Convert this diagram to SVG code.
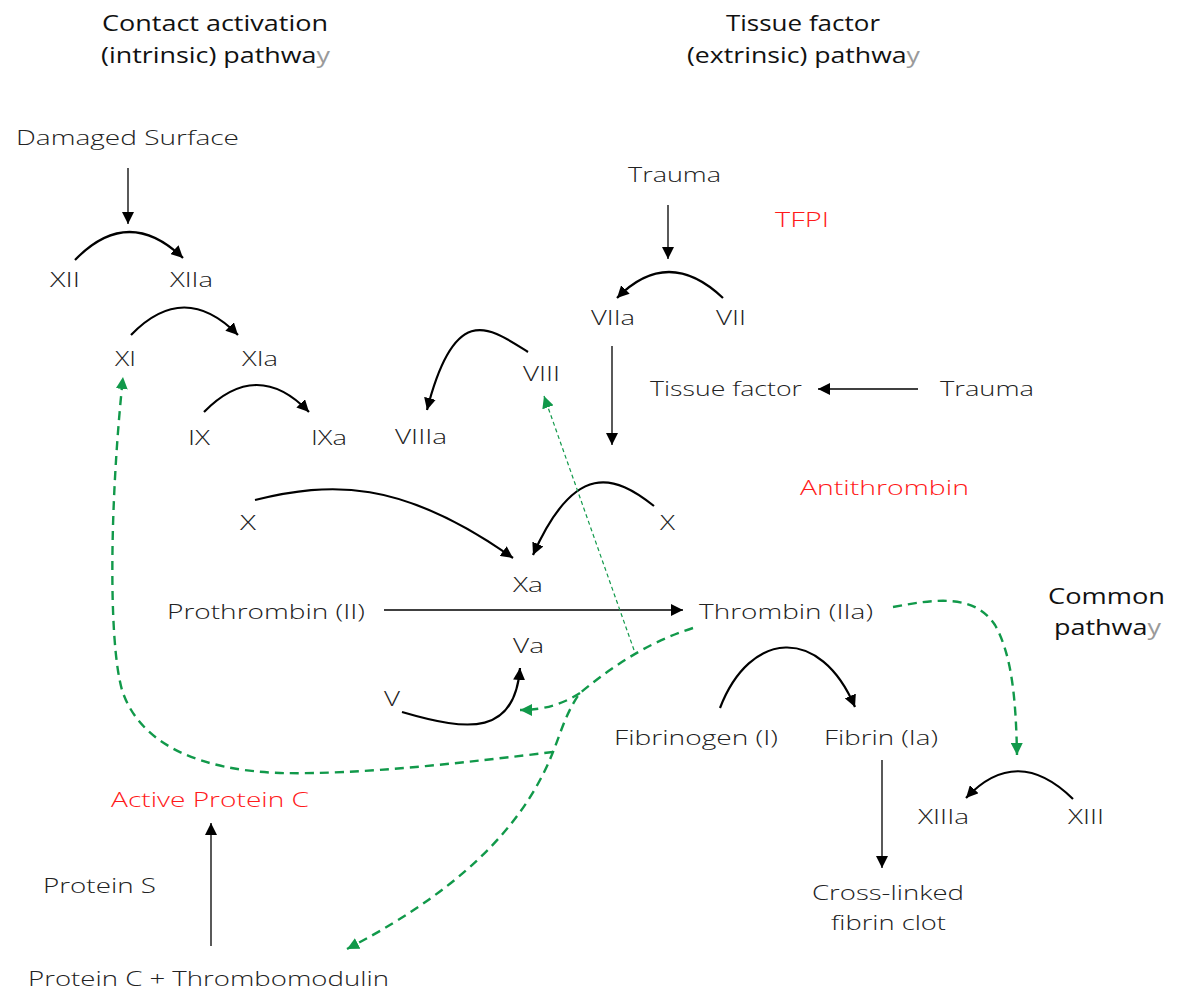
<svg xmlns="http://www.w3.org/2000/svg" width="1191" height="1007" viewBox="0 0 1191 1007">
<style>
text{font-family:"Open Sans","Liberation Sans",sans-serif;font-size:21px;font-weight:300;fill:#222}
.title{font-size:22px;font-weight:400;fill:#111}
.red{fill:#ff1a1a}
.gy{fill:#9a9a9a}
.ln{fill:none;stroke:#000;stroke-width:1.3}
.cv{fill:none;stroke:#000;stroke-width:2.2}
.gd{fill:none;stroke:#11994a;stroke-width:2.4;stroke-dasharray:9 6}
.gt{fill:none;stroke:#11994a;stroke-width:1.2;stroke-dasharray:4 3}
</style>
<defs>
<marker id="ab" viewBox="0 0 12 12" refX="12" refY="6" markerWidth="12" markerHeight="12" markerUnits="userSpaceOnUse" orient="auto"><path d="M0,0 L12,6 L0,12 z" fill="#000"/></marker>
<marker id="ag" viewBox="0 0 12 12" refX="12" refY="6" markerWidth="12" markerHeight="12" markerUnits="userSpaceOnUse" orient="auto"><path d="M0,0 L12,6 L0,12 z" fill="#11994a"/></marker>
</defs>
<rect width="1191" height="1007" fill="#fff"/>

<g id="titles">
<text class="title" x="102" y="31" textLength="226" lengthAdjust="spacingAndGlyphs">Contact activation</text>
<text class="title" x="101" y="63" textLength="229" lengthAdjust="spacingAndGlyphs">(intrinsic) pathwa<tspan class="gy">y</tspan></text>
<text class="title" x="726" y="31" textLength="154" lengthAdjust="spacingAndGlyphs">Tissue factor</text>
<text class="title" x="687" y="63" textLength="233" lengthAdjust="spacingAndGlyphs">(extrinsic) pathwa<tspan class="gy">y</tspan></text>
<text class="title" x="1048" y="604" textLength="117" lengthAdjust="spacingAndGlyphs">Common</text>
<text class="title" x="1054" y="635" textLength="107" lengthAdjust="spacingAndGlyphs">pathwa<tspan class="gy">y</tspan></text>
</g>

<g id="connectors">
<line class="ln" x1="128" y1="168" x2="128" y2="224" marker-end="url(#ab)"/>
<line class="ln" x1="668" y1="205" x2="668" y2="259" marker-end="url(#ab)"/>
<line class="ln" x1="612" y1="346" x2="612" y2="445" marker-end="url(#ab)"/>
<line class="ln" x1="918" y1="389" x2="818" y2="389" marker-end="url(#ab)"/>
<line class="ln" x1="384" y1="610" x2="683" y2="610" marker-end="url(#ab)"/>
<line class="ln" x1="882" y1="760" x2="882" y2="868" marker-end="url(#ab)"/>
<line class="ln" x1="211" y1="946" x2="211" y2="823" marker-end="url(#ab)"/>

<path class="cv" d="M75,260 Q128,205 183,258" marker-end="url(#ab)"/>
<path class="cv" d="M131,335 Q184,280 238,335" marker-end="url(#ab)"/>
<path class="cv" d="M204,412 Q257,358 309,412" marker-end="url(#ab)"/>
<path class="cv" d="M528,352 C490,328 455,300 427,410" marker-end="url(#ab)"/>
<path class="cv" d="M723,298 Q668,246 617,298" marker-end="url(#ab)"/>
<path class="cv" d="M255,500 C330,482 400,478 513,558" marker-end="url(#ab)"/>
<path class="cv" d="M654,506 C615,475 575,460 533,555" marker-end="url(#ab)"/>
<path class="cv" d="M402,712 C470,732 515,735 520,668" marker-end="url(#ab)"/>
<path class="cv" d="M720,708 C750,630 820,625 855,707" marker-end="url(#ab)"/>
<path class="cv" d="M1073,799 Q1017,744 966,798" marker-end="url(#ab)"/>

<path class="gd" d="M893,607 C940,598 975,595 995,625 C1012,655 1016,700 1017,755" marker-end="url(#ag)"/>
<path class="gd" d="M693,628 C655,640 620,660 580,693 C566,712 560,735 553,752 C530,810 480,880 347,949" marker-end="url(#ag)"/>
<path class="gd" d="M580,693 C566,702 548,710 520,710" marker-end="url(#ag)"/>
<path class="gd" d="M553,752 C470,762 360,775 280,773 C200,770 140,745 122,690 C108,640 110,500 123,377" marker-end="url(#ag)"/>
<line class="gt" x1="634" y1="650" x2="544" y2="396" marker-end="url(#ag)"/>
</g>

<g id="damaged-surface"><text x="16" y="145" textLength="223" lengthAdjust="spacingAndGlyphs">Damaged Surface</text></g>
<g id="xii"><text x="50" y="287" textLength="30" lengthAdjust="spacingAndGlyphs">XII</text></g>
<g id="xiia"><text x="170" y="287" textLength="43" lengthAdjust="spacingAndGlyphs">XIIa</text></g>
<g id="xi"><text x="115" y="366" textLength="21" lengthAdjust="spacingAndGlyphs">XI</text></g>
<g id="xia"><text x="242" y="366" textLength="36" lengthAdjust="spacingAndGlyphs">XIa</text></g>
<g id="ix"><text x="188" y="445" textLength="22" lengthAdjust="spacingAndGlyphs">IX</text></g>
<g id="ixa"><text x="311" y="445" textLength="36" lengthAdjust="spacingAndGlyphs">IXa</text></g>
<g id="viiia"><text x="395" y="444" textLength="52" lengthAdjust="spacingAndGlyphs">VIIIa</text></g>
<g id="viii"><text x="523" y="381" textLength="37" lengthAdjust="spacingAndGlyphs">VIII</text></g>
<g id="trauma-top"><text x="628" y="182" textLength="93" lengthAdjust="spacingAndGlyphs">Trauma</text></g>
<g id="tfpi"><text class="red" x="775" y="227" textLength="54" lengthAdjust="spacingAndGlyphs">TFPI</text></g>
<g id="viia"><text x="591" y="325" textLength="44" lengthAdjust="spacingAndGlyphs">VIIa</text></g>
<g id="vii"><text x="716" y="325" textLength="30" lengthAdjust="spacingAndGlyphs">VII</text></g>
<g id="tissue-factor"><text x="650" y="396" textLength="152" lengthAdjust="spacingAndGlyphs">Tissue factor</text></g>
<g id="trauma-right"><text x="940" y="396" textLength="94" lengthAdjust="spacingAndGlyphs">Trauma</text></g>
<g id="antithrombin"><text class="red" x="800" y="495" textLength="169" lengthAdjust="spacingAndGlyphs">Antithrombin</text></g>
<g id="x-left"><text x="240" y="530" textLength="16" lengthAdjust="spacingAndGlyphs">X</text></g>
<g id="x-right"><text x="660" y="530" textLength="15" lengthAdjust="spacingAndGlyphs">X</text></g>
<g id="xa"><text x="513" y="592" textLength="30" lengthAdjust="spacingAndGlyphs">Xa</text></g>
<g id="prothrombin"><text x="167" y="619" textLength="198" lengthAdjust="spacingAndGlyphs">Prothrombin (II)</text></g>
<g id="thrombin"><text x="699" y="619" textLength="174" lengthAdjust="spacingAndGlyphs">Thrombin (IIa)</text></g>
<g id="va"><text x="513" y="653" textLength="31" lengthAdjust="spacingAndGlyphs">Va</text></g>
<g id="v"><text x="384" y="706" textLength="16" lengthAdjust="spacingAndGlyphs">V</text></g>
<g id="fibrinogen"><text x="614" y="745" textLength="164" lengthAdjust="spacingAndGlyphs">Fibrinogen (I)</text></g>
<g id="fibrin"><text x="824" y="745" textLength="114" lengthAdjust="spacingAndGlyphs">Fibrin (Ia)</text></g>
<g id="clot"><text x="812" y="900" textLength="152" lengthAdjust="spacingAndGlyphs">Cross-linked</text><text x="831" y="930" textLength="115" lengthAdjust="spacingAndGlyphs">fibrin clot</text></g>
<g id="xiiia"><text x="918" y="824" textLength="51" lengthAdjust="spacingAndGlyphs">XIIIa</text></g>
<g id="xiii"><text x="1068" y="824" textLength="36" lengthAdjust="spacingAndGlyphs">XIII</text></g>
<g id="active-protein-c"><text class="red" x="111" y="807" textLength="198" lengthAdjust="spacingAndGlyphs">Active Protein C</text></g>
<g id="protein-s"><text x="43" y="893" textLength="113" lengthAdjust="spacingAndGlyphs">Protein S</text></g>
<g id="protein-c-thrombomodulin"><text x="28" y="986" textLength="361" lengthAdjust="spacingAndGlyphs">Protein C + Thrombomodulin</text></g>
</svg>
